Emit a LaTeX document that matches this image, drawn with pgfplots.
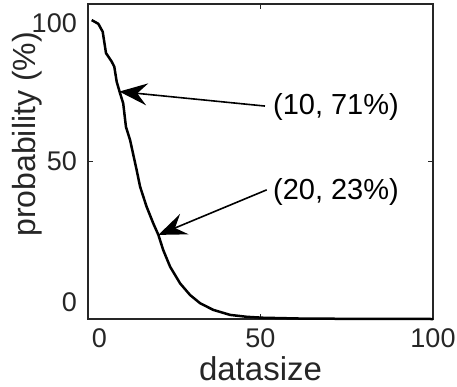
\documentclass[border=0pt]{standalone}
\usepackage{fontspec}
\setmainfont{Liberation Sans}
\usepackage{pgfplots}
\pgfplotsset{compat=1.18}
\usetikzlibrary{arrows.meta}
\definecolor{axgray}{HTML}{262626}

\begin{document}
\begin{tikzpicture}
\begin{axis}[
    name=ax,
    width=345pt, height=315pt, scale only axis,
    xmin=0, xmax=100, ymin=0, ymax=100,
    axis line style={axgray, line width=1.1pt},
    tick style={axgray, line width=1.1pt},
    tick align=inside, major tick length=5pt,
    xtick={0,50,100}, xticklabels={{},50,100},
    ytick={0,50,100}, yticklabels={{},50,{}},
    extra x ticks={3.33}, extra x tick labels={0},
    extra y ticks={5.4,93.8}, extra y tick labels={0,100},
    extra x tick style={major tick length=0pt},
    extra y tick style={major tick length=0pt},
    ticklabel style={font=\fontsize{27}{30}\selectfont, text=axgray, inner sep=0pt},
    xticklabel style={yshift=-9pt},
    yticklabel style={xshift=-11pt},
    xlabel={datasize}, ylabel={probability (\%)},
    xlabel style={font=\fontsize{33}{36}\selectfont, text=axgray,
        at={(rel axis cs:0.5,0)}, anchor=base, yshift=-61pt, inner sep=0pt},
    % the label is rotated, so yshift moves it to the left
    ylabel style={font=\fontsize{32}{35}\selectfont, text=axgray,
        at={(rel axis cs:0,0.586)}, anchor=south, yshift=46pt, inner sep=0pt},
    clip=false,
    /pgf/number format/assume math mode=true,
]

% probability vs datasize
\addplot[black, line width=2.5pt, line join=round] coordinates {
    (1.07,94.9) (3.0,93.7) (4.26,91.2) (5.22,84.4) (6.87,81.7)
    (7.62,80.1) (8.32,75.3) (9.28,71.7) (10.2,68.5) (11.0,61.0)
    (12.2,56.8) (14.1,47.3) (15.1,42.0) (17.0,35.6) (18.9,30.4)
    (20.4,26.7) (21.8,21.9) (23.8,16.6) (26.7,11.3) (29.6,7.6)
    (32.5,5.0) (36.3,2.9) (41.2,1.3) (46.0,0.7) (50.7,0.4)
    (61.4,0.15) (76,0.05) (100,0)
};

% annotations
\draw[black, line width=1.6pt, -{Stealth[length=28pt,width=22pt,inset=10pt]}]
    (axis cs:51.3,67.6) -- (axis cs:9.07,72.2);
\node[anchor=west, font=\fontsize{29}{32}\selectfont, inner sep=0pt]
    at (axis cs:53.6,67.3) {(10, 71\%)};
\draw[black, line width=1.6pt, -{Stealth[length=28pt,width=22pt,inset=10pt]}]
    (axis cs:51.8,41.0) -- (axis cs:20.4,26.7);
\node[anchor=west, font=\fontsize{29}{32}\selectfont, inner sep=0pt]
    at (axis cs:53.6,40.3) {(20, 23\%)};
\end{axis}
\pgfresetboundingbox
\path[use as bounding box] ([xshift=-88pt,yshift=-67pt]ax.south west)
    rectangle ([xshift=24pt,yshift=4pt]ax.north east);
\end{tikzpicture}
\end{document}
